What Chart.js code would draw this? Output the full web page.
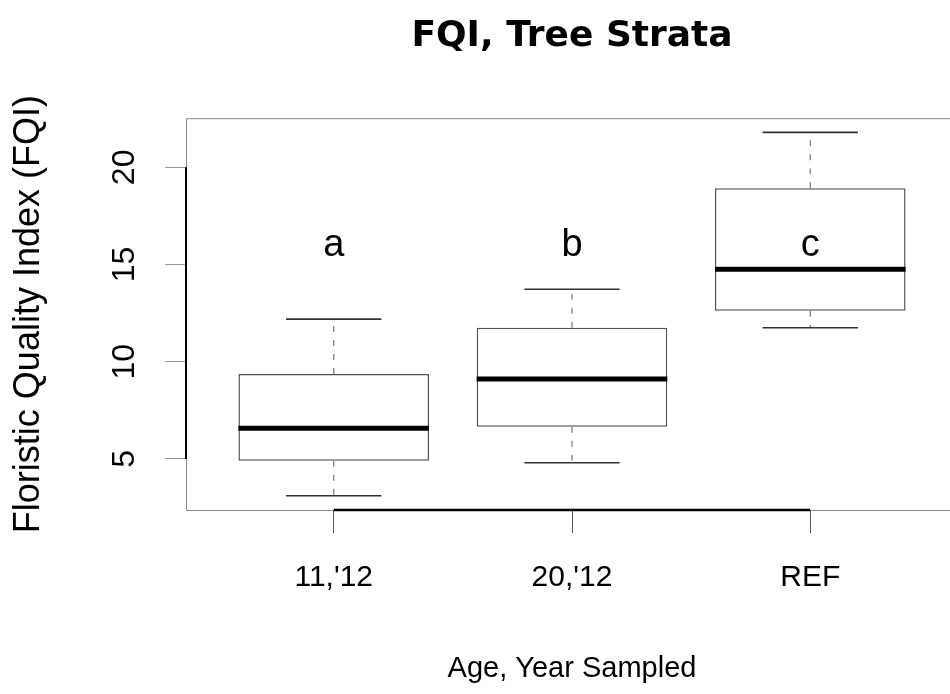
<!DOCTYPE html>
<html>
<head>
<meta charset="utf-8">
<script src="https://cdn.jsdelivr.net/npm/chart.js@4.4.1/dist/chart.umd.min.js"></script>
<style>
  html, body { margin: 0; padding: 0; background: #fff; overflow: hidden; }
  canvas { display: block; }
</style>
</head>
<body>
<canvas id="fqiChart" width="960" height="694"></canvas>
<script>
// values
const categories = ["11,'12", "20,'12", "REF"];
const whiskerLow = [3.1, 4.8, 11.75];
const q1 = [4.9, 6.66, 12.62];
const median = [6.58, 9.11, 14.76];
const q3 = [9.37, 11.75, 18.92];
const whiskerHigh = [12.19, 13.73, 21.8];
const groupLetters = ['a', 'b', 'c'];
const letterLevel = 16;
const yTicks = [5, 10, 15, 20];

const sans = "'Liberation Sans', Arial, sans-serif";

// whiskers, caps, medians, letters and the R style frame
const boxParts = {
    id: 'boxParts',
    beforeDatasetsDraw(chart) {
        const ctx = chart.ctx;
        const a = chart.chartArea;
        ctx.save();
        ctx.strokeStyle = '#8a8a8a';
        ctx.lineWidth = 1;
        ctx.beginPath();
        ctx.moveTo(chart.width, a.top + 0.5);
        ctx.lineTo(a.left + 0.5, a.top + 0.5);
        ctx.lineTo(a.left + 0.5, a.bottom + 0.5);
        ctx.lineTo(chart.width, a.bottom + 0.5);
        ctx.stroke();
        ctx.restore();
    },
    afterDatasetsDraw(chart) {
        const ctx = chart.ctx;
        const x = chart.scales.x;
        const y = chart.scales.y;
        const a = chart.chartArea;
        ctx.save();
        categories.forEach((c, i) => {
            const cx = x.getPixelForValue(i + 1);
            const capL = x.getPixelForValue(i + 0.8);
            const capR = x.getPixelForValue(i + 1.2);
            const boxL = x.getPixelForValue(i + 0.6);
            const boxR = x.getPixelForValue(i + 1.4);

            ctx.setLineDash([6, 8]);
            ctx.strokeStyle = '#777';
            ctx.lineWidth = 1.2;
            ctx.beginPath();
            ctx.moveTo(cx, y.getPixelForValue(q3[i]));
            ctx.lineTo(cx, y.getPixelForValue(whiskerHigh[i]));
            ctx.moveTo(cx, y.getPixelForValue(q1[i]));
            ctx.lineTo(cx, y.getPixelForValue(whiskerLow[i]));
            ctx.stroke();

            ctx.setLineDash([]);
            ctx.strokeStyle = '#333';
            ctx.lineWidth = 1.6;
            ctx.beginPath();
            ctx.moveTo(capL, y.getPixelForValue(whiskerHigh[i]));
            ctx.lineTo(capR, y.getPixelForValue(whiskerHigh[i]));
            ctx.moveTo(capL, y.getPixelForValue(whiskerLow[i]));
            ctx.lineTo(capR, y.getPixelForValue(whiskerLow[i]));
            ctx.stroke();

            ctx.strokeStyle = '#000';
            ctx.lineWidth = 5;
            ctx.beginPath();
            ctx.moveTo(boxL, y.getPixelForValue(median[i]));
            ctx.lineTo(boxR, y.getPixelForValue(median[i]));
            ctx.stroke();

            ctx.fillStyle = '#000';
            ctx.font = '38px ' + sans;
            ctx.textAlign = 'center';
            ctx.textBaseline = 'middle';
            ctx.fillText(groupLetters[i], cx, y.getPixelForValue(letterLevel));
        });

        // axis lines span first to last tick
        ctx.strokeStyle = '#000';
        ctx.lineWidth = 2.5;
        ctx.beginPath();
        ctx.moveTo(x.getPixelForValue(1), a.bottom);
        ctx.lineTo(x.getPixelForValue(categories.length), a.bottom);
        ctx.stroke();
        ctx.lineWidth = 2;
        ctx.beginPath();
        ctx.moveTo(a.left, y.getPixelForValue(yTicks[0]));
        ctx.lineTo(a.left, y.getPixelForValue(yTicks[yTicks.length - 1]));
        ctx.stroke();
        ctx.restore();
    }
};

const ctx = document.getElementById('fqiChart').getContext('2d');
new Chart(ctx, {
    type: 'bar',
    data: {
        datasets: [{
            data: categories.map((c, i) => ({ x: i + 1, y: [q1[i], q3[i]] })),
            backgroundColor: '#ffffff',
            borderColor: '#555',
            borderWidth: 1.5,
            borderSkipped: false,
            categoryPercentage: 1,
            barPercentage: 0.8
        }]
    },
    options: {
        responsive: false,
        animation: false,
        layout: { padding: { left: 0, right: 2, top: 0, bottom: 0 } },
        plugins: {
            legend: { display: false },
            tooltip: { enabled: false },
            title: {
                display: true,
                text: 'FQI, Tree Strata',
                fullSize: false,
                color: '#000',
                font: { family: "'DejaVu Sans', sans-serif", size: 36, weight: 'bold', lineHeight: 1.2 },
                padding: { top: 15, bottom: 60 }
            }
        },
        scales: {
            x: {
                type: 'linear',
                min: 0.38,
                max: 3.62,
                offset: false,
                bounds: 'data',
                afterBuildTicks: scale => {
                    scale.ticks = categories.map((c, i) => ({ value: i + 1 }));
                },
                afterFit: scale => { scale.height = 184; },
                grid: {
                    offset: false,
                    drawOnChartArea: false,
                    drawTicks: true,
                    tickLength: 23,
                    tickColor: '#555',
                    tickWidth: 1
                },
                border: { display: false },
                ticks: {
                    autoSkip: false,
                    maxRotation: 0,
                    padding: 27,
                    color: '#000',
                    font: { family: sans, size: 30 },
                    callback: v => categories[v - 1]
                },
                title: {
                    display: true,
                    text: 'Age, Year Sampled',
                    color: '#000',
                    font: { family: sans, size: 29 },
                    padding: { top: 0, bottom: 8 }
                }
            },
            y: {
                min: 2.37,
                max: 22.53,
                bounds: 'data',
                afterBuildTicks: scale => {
                    scale.ticks = yTicks.map(v => ({ value: v }));
                },
                afterFit: scale => { scale.width = 186; },
                grid: {
                    drawOnChartArea: false,
                    drawTicks: true,
                    tickLength: 21,
                    tickColor: '#999',
                    tickWidth: 1
                },
                border: { display: false },
                ticks: {
                    minRotation: 90,
                    maxRotation: 90,
                    crossAlign: 'center',
                    padding: 22,
                    color: '#000',
                    font: { family: sans, size: 32 }
                },
                title: {
                    display: true,
                    text: 'Floristic Quality Index (FQI)',
                    color: '#000',
                    font: { family: sans, size: 36 },
                    padding: { top: 7, bottom: 0 }
                }
            }
        }
    },
    plugins: [boxParts]
});
</script>
</body>
</html>
